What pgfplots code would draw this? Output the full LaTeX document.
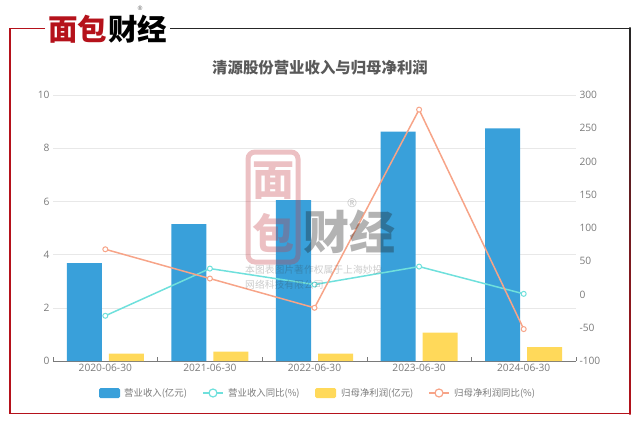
\documentclass[border=0pt]{standalone}
\usepackage{fontspec}
\usepackage{pgfplots}
\pgfplotsset{compat=1.18}
\setmainfont{Noto Sans CJK SC}
\newfontfamily\latin{Open Sans}
\definecolor{cblue}{HTML}{39A0DA}
\definecolor{cyell}{HTML}{FFD95A}
\definecolor{ccyan}{HTML}{6FE0DC}
\definecolor{corg}{HTML}{F7A488}
\definecolor{tgray}{HTML}{7A7A7A}
\definecolor{fred}{HTML}{B5121B}
\begin{document}
\begin{tikzpicture}
\useasboundingbox (0pt,0pt) rectangle (640pt,424pt);
\begin{axis}[at={(53pt,63pt)},anchor=south west,scale only axis,width=523pt,height=266pt,
 xmin=-0.5,xmax=4.5,ymin=0,ymax=10,ytick={0,2,4,6,8,10},xtick={0,1,2,3,4},
 xticklabels={2020-06-30,2021-06-30,2022-06-30,2023-06-30,2024-06-30},
 axis y line*=left,axis x line*=bottom,
 y axis line style={draw=none},
 x axis line style={draw=tgray,-},
 xtick style={draw=none},
 extra x ticks={-0.5,0.5,1.5,2.5,3.5,4.5},extra x tick labels={},
 extra x tick style={xtick style={draw=tgray,line width=0.6pt},major tick length=4pt,tick pos=left,grid=none},
 ytick style={draw=none},
 ymajorgrids,grid style={draw=gray!18,line width=0.5pt},
 tick label style={font=\latin\fontsize{10.2}{12}\selectfont,text=tgray},
 /pgf/number format/assume math mode=true,
 ]
 \addplot[ybar,bar width=35pt,bar shift=-21pt,fill=cblue,draw=none] coordinates {(0,3.68)(1,5.15)(2,6.05)(3,8.62)(4,8.75)};
 \addplot[ybar,bar width=35pt,bar shift=21pt,fill=cyell,draw=none] coordinates {(0,0.28)(1,0.35)(2,0.28)(3,1.07)(4,0.52)};
\end{axis}
\begin{axis}[at={(53pt,63pt)},anchor=south west,scale only axis,width=523pt,height=266pt,
 xmin=-0.5,xmax=4.5,ymin=-100,ymax=300,ytick={-100,-50,0,50,100,150,200,250,300},
 axis y line*=right,axis x line*=bottom,x axis line style={draw=none},xtick=\empty,y axis line style={draw=none},ytick style={draw=none},
 tick label style={font=\latin\fontsize{10.2}{12}\selectfont,text=tgray},
 /pgf/number format/assume math mode=true,clip=false]
 \addplot[ccyan,line width=1.5pt,mark=*,mark size=2.5pt,mark options={fill=white,draw=ccyan,line width=1pt}] coordinates {(0,-32)(1,39)(2,15)(3,42)(4,1)};
 \addplot[corg,line width=1.5pt,mark=*,mark size=2.5pt,mark options={fill=white,draw=corg,line width=1pt}] coordinates {(0,68)(1,24)(2,-20)(3,278)(4,-52)};
\end{axis}
% title
\node[text=black!65,font=\bfseries\fontsize{15.4}{17}\selectfont] at (320pt,356pt) {清源股份营业收入与归母净利润};
% legend
\tikzset{lt/.style={anchor=west,text=tgray,font=\fontsize{9.4}{10}\selectfont,inner sep=0pt}}
\fill[cblue,rounded corners=1.5pt] (99pt,26pt) rectangle (120pt,36pt);
\node[lt] at (124pt,31pt) {营业收入(亿元)};
\draw[ccyan,line width=1.2pt] (203pt,31pt)--(223pt,31pt);
\draw[ccyan,line width=1.2pt,fill=white] (213pt,31pt) circle (4pt);
\node[lt] at (228pt,31pt) {营业收入同比(\%)};
\fill[cyell,rounded corners=1.5pt] (315pt,26pt) rectangle (336pt,36pt);
\node[lt] at (341pt,31pt) {归母净利润(亿元)};
\draw[corg,line width=1.2pt] (429pt,31pt)--(449pt,31pt);
\draw[corg,line width=1.2pt,fill=white] (439pt,31pt) circle (4pt);
\node[lt] at (454pt,31pt) {归母净利润同比(\%)};
% frame
\draw[fred,line width=1.3pt] (45pt,395.5pt)--(10pt,395.5pt)--(10pt,10.5pt)--(630pt,10.5pt);
\draw[black!85,line width=1pt] (170pt,395.5pt)--(630pt,395.5pt);
\shade[bottom color=fred,top color=black!85] (629.4pt,10pt) rectangle (630.6pt,396pt);
% logo
\node[anchor=west,inner sep=0pt,text=fred,font=\bfseries\fontsize{29.5}{31}\selectfont] at (48pt,394.5pt) {面包};
\node[anchor=west,inner sep=0pt,text=black,font=\bfseries\fontsize{29.5}{31}\selectfont] at (108pt,394.5pt) {财经};
\node[text=black!60,font=\latin\fontsize{6}{7}\selectfont,inner sep=0pt] at (140pt,416pt) {®};
% watermark
\begin{scope}[opacity=0.33]
\draw[fred!80,line width=5pt,rounded corners=7pt] (248pt,272pt) rectangle (298pt,162pt);
\node[text=fred!80,font=\bfseries\fontsize{42}{44}\selectfont,inner sep=0pt] at (273pt,243pt) {面};
\node[text=fred!80,font=\bfseries\fontsize{42}{44}\selectfont,inner sep=0pt] at (273pt,191pt) {包};
\node[text=black!90,font=\bfseries\fontsize{46}{48}\selectfont,anchor=west,inner sep=0pt] at (303pt,192pt) {财经};
\node[text=black!70,font=\latin\fontsize{12}{14}\selectfont,inner sep=0pt] at (352pt,221pt) {®};
\end{scope}
\begin{scope}[opacity=0.25]
\node[text=black!80,font=\fontsize{9.8}{11}\selectfont,anchor=west,inner sep=0pt] at (245pt,154pt) {本图表图片著作权属于上海妙投};
\node[text=black!80,font=\fontsize{9.8}{11}\selectfont,anchor=west,inner sep=0pt] at (245pt,139pt) {网络科技有限公司};
\end{scope}
\end{tikzpicture}
\end{document}
